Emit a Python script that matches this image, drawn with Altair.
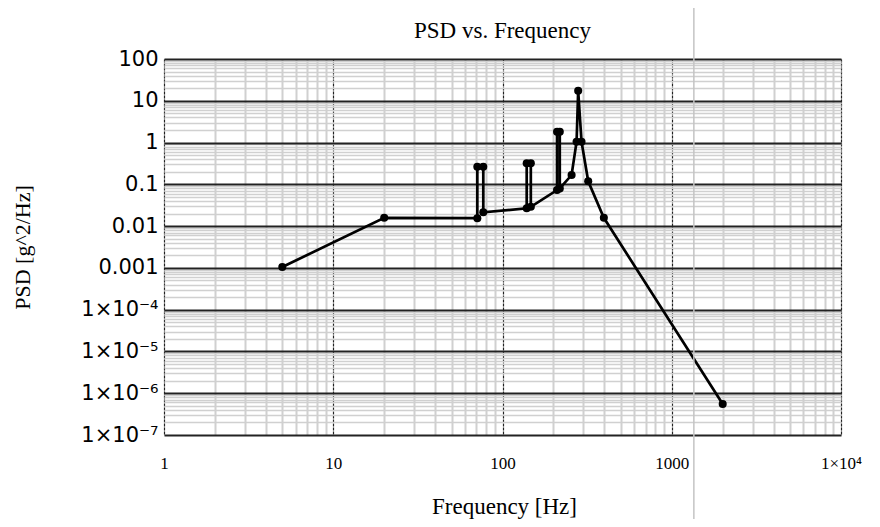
import altair as alt
import pandas as pd

# PSD profile (vertices in drawing order)
freq_hz = [5, 20, 71, 71, 77, 77, 139, 139, 147, 147, 210, 210, 218, 218,
           256, 274, 280, 293, 321, 397, 2000]
psd_g2hz = [0.00105, 0.0158, 0.0155, 0.264, 0.264, 0.0214, 0.0267, 0.32, 0.32, 0.029,
            0.073, 1.82, 1.82, 0.08, 0.167, 1.05, 17.4, 1.05, 0.118, 0.0158, 5.5e-7]

x_major = [1, 10, 100, 1000, 10000]
x_minor = [m * d for d in [1, 10, 100, 1000] for m in range(2, 10)]
y_major = [1e-7, 1e-6, 1e-5, 1e-4, 1e-3, 0.01, 0.1, 1, 10, 100]
y_minor = [m * d for d in [1e-7, 1e-6, 1e-5, 1e-4, 1e-3, 0.01, 0.1, 1, 10] for m in range(2, 10)]

cursor_hz = [1351]

df = pd.DataFrame({"freq": freq_hz, "psd": psd_g2hz, "idx": list(range(len(freq_hz)))})
cur = pd.DataFrame({"freq": cursor_hz})

IS_MAJOR = "abs(log(datum.value)/LN10 - round(log(datum.value)/LN10)) < 0.0001"

x_label = ("datum.value > 9999 ? '1×10⁴' : (" + IS_MAJOR + " ? toString(round(datum.value)) : '')")
y_label = ("!(" + IS_MAJOR + ") ? '' : (round(log(datum.value)/LN10) >= -3 ? toString(datum.value) : "
           "'1×10⁻' + ['⁰','¹','²','³','⁴','⁵','⁶','⁷','⁸','⁹'][-round(log(datum.value)/LN10)])")

x_enc = alt.X(
    "freq:Q",
    scale=alt.Scale(type="log", domain=[1, 10000], nice=False),
    axis=alt.Axis(
        values=x_minor + x_major,
        labelExpr=x_label,
        grid=True,
        gridColor={"condition": {"test": IS_MAJOR, "value": "#222222"}, "value": "#d0d0d0"},
        gridWidth={"condition": {"test": IS_MAJOR, "value": 1.2}, "value": 2},
        gridDash={"condition": {"test": IS_MAJOR, "value": [3, 1]}, "value": []},
        gridOpacity=1,
        ticks=False,
        domain=False,
        labelOverlap=False,
        labelFlush=False,
        labelFont="Liberation Serif",
        labelFontSize=17,
        labelColor="#000000",
        labelPadding=20,
        title="Frequency [Hz]",
        titleFont="Liberation Serif",
        titleFontSize=23,
        titleFontWeight="normal",
        titleColor="#000000",
        titleX=340,
        titleY=78.5,
        titleBaseline="alphabetic",
    ),
)

y_enc = alt.Y(
    "psd:Q",
    scale=alt.Scale(type="log", domain=[1e-7, 100], nice=False),
    axis=alt.Axis(
        values=y_minor + y_major,
        labelExpr=y_label,
        grid=True,
        gridColor={"condition": {"test": IS_MAJOR, "value": "#222222"}, "value": "#d0d0d0"},
        gridWidth={"condition": {"test": IS_MAJOR, "value": 2}, "value": 1.5},
        gridOpacity=1,
        ticks=False,
        domain=False,
        labelOverlap=False,
        labelFlush=False,
        labelFont="DejaVu Sans",
        labelFontSize=21,
        labelColor="#000000",
        labelPadding=6,
        title="PSD [g^2/Hz]",
        titleFont="Liberation Serif",
        titleFontSize=22,
        titleFontWeight="normal",
        titleColor="#000000",
        titleX=-142,
        titleBaseline="middle",
    ),
)

base = alt.Chart(df)
line = base.mark_line(color="black", strokeWidth=2.7).encode(x=x_enc, y=y_enc, order="idx:Q")
pts = base.mark_circle(color="black", size=65, opacity=1).encode(x="freq:Q", y="psd:Q")
cursor = alt.Chart(cur).mark_rule(color="#c4c4c4", strokeWidth=1.5).encode(
    x="freq:Q", y=alt.value(-52), y2=alt.value(470)
)

chart = alt.layer(line, pts, cursor).properties(
    width=677,
    height=376,
    title=alt.TitleParams("PSD vs. Frequency", font="Liberation Serif", fontSize=23,
                          fontWeight="normal", color="#000000", offset=16, dy=53),
    autosize=alt.AutoSizeParams(type="none"),
    padding={"left": 156, "top": 51, "right": 31, "bottom": 84},
).configure_view(stroke="#333333", strokeWidth=1.5).configure(background="white")

chart.save("out.html", embed_options={"renderer": "svg", "actions": False})
